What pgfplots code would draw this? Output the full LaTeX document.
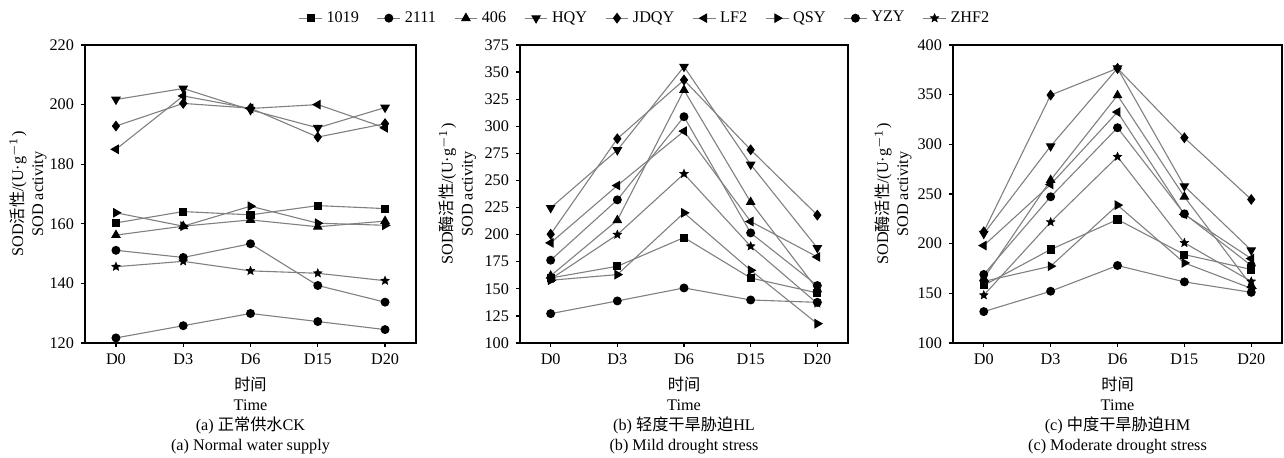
\documentclass[border=0pt]{standalone}
\usepackage{fontspec}
\setmainfont{Liberation Serif}
\newfontfamily\cjk{Noto Sans CJK SC}
\usepackage{pgfplots}
\usepackage{pgfplotstable}
\pgfplotsset{compat=1.18}
\usetikzlibrary{plotmarks}

% filled five-pointed star
\pgfdeclareplotmark{fstar}{%
  \pgfpathmoveto{\pgfpointpolar{90}{\pgfplotmarksize}}%
  \pgfpathlineto{\pgfpointpolar{126}{0.45\pgfplotmarksize}}%
  \pgfpathlineto{\pgfpointpolar{162}{\pgfplotmarksize}}%
  \pgfpathlineto{\pgfpointpolar{198}{0.45\pgfplotmarksize}}%
  \pgfpathlineto{\pgfpointpolar{234}{\pgfplotmarksize}}%
  \pgfpathlineto{\pgfpointpolar{270}{0.45\pgfplotmarksize}}%
  \pgfpathlineto{\pgfpointpolar{306}{\pgfplotmarksize}}%
  \pgfpathlineto{\pgfpointpolar{342}{0.45\pgfplotmarksize}}%
  \pgfpathlineto{\pgfpointpolar{18}{\pgfplotmarksize}}%
  \pgfpathlineto{\pgfpointpolar{54}{0.45\pgfplotmarksize}}%
  \pgfpathclose\pgfusepathqfillstroke}

% panel (a) normal water supply
\pgfplotstableread{
x  c1019 c2111 c406  HQY   JDQY  LF2   QSY   YZY   ZHF2
0  160.3 151.1 156.2 201.7 192.8 185.0 163.7 121.7 145.6
1  164.1 148.7 159.2 205.4 200.4 202.9 159.2 125.8 147.4
2  163.0 153.3 161.3 198.2 198.8 198.7 165.9 129.9 144.2
3  166.1 139.3 159.0 192.2 189.1 200.0 160.2 127.2 143.4
4  165.1 133.7 160.9 199.0 193.6 192.2 159.5 124.5 140.9
}\tabA
% panel (b) mild drought
\pgfplotstableread{
x  c1019 c2111 c406  HQY   JDQY  LF2   QSY   YZY   ZHF2
0  160.0 176.4 162.0 224.7 200.4 192.4 157.9 127.1 159.0
1  170.8 232.1 213.3 278.0 288.5 245.3 163.1 138.8 200.0
2  197.3 308.8 333.4 355.0 342.7 295.5 220.1 150.8 256.1
3  160.0 201.6 230.0 264.7 278.3 212.1 167.1 139.7 189.3
4  146.2 153.0 149.3 187.7 218.0 179.4 117.8 137.5 136.5
}\tabB
% panel (c) moderate drought
\pgfplotstableread{
x  c1019 c2111 c406  HQY   JDQY  LF2   QSY   YZY   ZHF2
0  158.0 169.0 165.0 210.0 212.0 198.1 162.0 131.6 148.1
1  194.1 247.2 264.0 298.2 349.6 259.6 177.3 152.1 221.7
2  224.3 316.7 349.3 376.5 376.5 332.5 238.8 178.0 287.5
3  189.0 230.0 247.2 257.9 306.6 229.4 180.6 161.5 200.8
4  174.0 178.0 158.0 193.4 244.5 185.0 155.0 151.0 162.0
}\tabC

\pgfplotsset{
  panel/.style={
    scale only axis, width=#1, height=149pt,
    anchor=south west,
    xmin=-0.46, xmax=4.46,
    xtick={0,1,2,3,4},
    xticklabels={D0,D3,D6,D15,D20},
    xtick pos=bottom, ytick pos=left,
    tick align=outside,
    major tick length=2pt,
    axis line style={line width=1pt},
    tick style={line width=0.6pt, black},
    tick label style={font=\fontsize{8.1}{9}\selectfont},
    /pgf/number format/assume math mode=true,
    label style={font=\fontsize{8.1}{10}\selectfont, align=center},
    xlabel style={at={(axis description cs:0.5,-0.09)}, anchor=north},
    every axis plot/.append style={color=black!50, line width=0.55pt},
  },
  s1019/.style={mark=square*, mark size=1.75pt, mark options={fill=black, draw=black}},
  s2111/.style={mark=*, mark size=1.95pt, mark options={fill=black, draw=black}},
  s406/.style={mark=triangle*, mark size=2.3pt, mark options={fill=black, draw=black}},
  sHQY/.style={mark=triangle*, mark size=2.3pt, mark options={fill=black, draw=black, rotate=180}},
  sJDQY/.style={mark=diamond*, mark size=2.3pt, mark options={fill=black, draw=black}},
  sLF2/.style={mark=triangle*, mark size=2.3pt, mark options={fill=black, draw=black, rotate=90}},
  sQSY/.style={mark=triangle*, mark size=2.3pt, mark options={fill=black, draw=black, rotate=-90}},
  sYZY/.style={mark=*, mark size=1.95pt, mark options={fill=black, draw=black}},
  sZHF2/.style={mark=fstar, mark size=2.3pt, mark options={fill=black, draw=black, line width=0.2pt}},
}

\begin{document}
\begin{tikzpicture}
\useasboundingbox (0,0) rectangle (642pt,229pt);

% (a)
\begin{axis}[panel=165.5pt, at={(42.5pt,57.5pt)},
  ymin=120, ymax=220, ytick={120,140,...,220},
  ylabel={SOD{\cjk 活性}/(U·g$^{-1}$)\\SOD activity},
  ylabel style={at={(axis description cs:-0.172,0.5)}, anchor=center},
  xlabel={{\cjk 时间}\\Time\\(a) {\cjk 正常供水}CK\\(a) Normal water supply},
]
\addplot[s1019] table[x=x,y=c1019] {\tabA};
\addplot[s2111] table[x=x,y=c2111] {\tabA};
\addplot[s406]  table[x=x,y=c406]  {\tabA};
\addplot[sHQY]  table[x=x,y=HQY]   {\tabA};
\addplot[sJDQY] table[x=x,y=JDQY]  {\tabA};
\addplot[sLF2]  table[x=x,y=LF2]   {\tabA};
\addplot[sQSY]  table[x=x,y=QSY]   {\tabA};
\addplot[sYZY]  table[x=x,y=YZY]   {\tabA};
\addplot[sZHF2] table[x=x,y=ZHF2]  {\tabA};
\end{axis}

% (b)
\begin{axis}[panel=164pt, at={(260pt,57.5pt)},
  ymin=100, ymax=375, ytick={100,125,...,375},
  ylabel={SOD{\cjk 酶活性}/(U·g$^{-1}$)\\SOD activity},
  ylabel style={at={(axis description cs:-0.19,0.5)}, anchor=center},
  xlabel={{\cjk 时间}\\Time\\(b) {\cjk 轻度干旱胁迫}HL\\(b) Mild drought stress},
  legend columns=9,
  legend style={at={(0.384,1.09)}, anchor=center, draw=none,
    font=\fontsize{8.1}{9}\selectfont, inner sep=0pt,
    /tikz/every even column/.append style={column sep=7pt}},
  legend image code/.code={
    \draw[mark repeat=2,mark phase=2] plot coordinates {(0cm,0cm) (0.2cm,0cm) (0.4cm,0cm)};},
]
\addplot[s1019] table[x=x,y=c1019] {\tabB}; \addlegendentry{1019}
\addplot[s2111] table[x=x,y=c2111] {\tabB}; \addlegendentry{2111}
\addplot[s406]  table[x=x,y=c406]  {\tabB}; \addlegendentry{406}
\addplot[sHQY]  table[x=x,y=HQY]   {\tabB}; \addlegendentry{HQY}
\addplot[sJDQY] table[x=x,y=JDQY]  {\tabB}; \addlegendentry{JDQY}
\addplot[sLF2]  table[x=x,y=LF2]   {\tabB}; \addlegendentry{LF2}
\addplot[sQSY]  table[x=x,y=QSY]   {\tabB}; \addlegendentry{QSY}
\addplot[sYZY]  table[x=x,y=YZY]   {\tabB}; \addlegendentry{YZY}
\addplot[sZHF2] table[x=x,y=ZHF2]  {\tabB}; \addlegendentry{ZHF2}
\end{axis}

% (c)
\begin{axis}[panel=164.5pt, at={(476.5pt,57.5pt)},
  ymin=100, ymax=400, ytick={100,150,...,400},
  ylabel={SOD{\cjk 酶活性}/(U·g$^{-1}$)\\SOD activity},
  ylabel style={at={(axis description cs:-0.182,0.5)}, anchor=center},
  xlabel={{\cjk 时间}\\Time\\(c) {\cjk 中度干旱胁迫}HM\\(c) Moderate drought stress},
]
\addplot[s1019] table[x=x,y=c1019] {\tabC};
\addplot[s2111] table[x=x,y=c2111] {\tabC};
\addplot[s406]  table[x=x,y=c406]  {\tabC};
\addplot[sHQY]  table[x=x,y=HQY]   {\tabC};
\addplot[sJDQY] table[x=x,y=JDQY]  {\tabC};
\addplot[sLF2]  table[x=x,y=LF2]   {\tabC};
\addplot[sQSY]  table[x=x,y=QSY]   {\tabC};
\addplot[sYZY]  table[x=x,y=YZY]   {\tabC};
\addplot[sZHF2] table[x=x,y=ZHF2]  {\tabC};
\end{axis}
\end{tikzpicture}
\end{document}
